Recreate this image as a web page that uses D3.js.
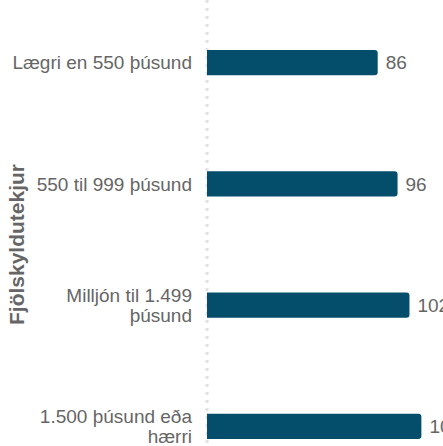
<!DOCTYPE html>
<html>
<head>
<meta charset="utf-8">
<script src="https://cdn.jsdelivr.net/npm/d3@7"></script>
<style>
  body { margin: 0; overflow: hidden; background: #fff; }
  svg { display: block; font-family: "Liberation Sans", Arial, sans-serif; }
</style>
</head>
<body>
<div id="chart"></div>
<script>
// income brackets (label lines) and index values
var categories = [
  ["Lægri en 550 þúsund"],
  ["550 til 999 þúsund"],
  ["Milljón til 1.499", "þúsund"],
  ["1.500 þúsund eða", "hærri"]
];
var values = [86, 96, 102, 108];
var axisTitle = "Fjölskyldutekjur";

var width = 443, height = 446;
// the original chart is bigger than the window, it gets cut on right and bottom
var margin = {top: 2, left: 207};
var plotH = 485;

var svg = d3.select("#chart").append("svg")
    .attr("width", width)
    .attr("height", height);

var x = d3.scaleLinear().domain([0, 100]).range([margin.left, margin.left + 198.5]);
var y = d3.scaleBand()
    .domain(d3.range(categories.length))
    .range([margin.top, margin.top + plotH])
    .paddingInner(0.793)
    .paddingOuter(0.397);

// dotted zero line
svg.append("line")
    .attr("x1", x(0)).attr("x2", x(0))
    .attr("y1", 0).attr("y2", height)
    .attr("stroke", "#e3e3e3")
    .attr("stroke-width", 3)
    .attr("stroke-dasharray", "3,5");

var barH = y.bandwidth();
var r = 3;

svg.selectAll(".bar")
    .data(values)
    .enter().append("path")
    .attr("class", "bar")
    .attr("fill", "#044e6c")
    .attr("d", function(d, i) {
      var x0 = x(0), x1 = x(d), y0 = y(i), y1 = y(i) + barH;
      return "M" + x0 + "," + y0 +
        "H" + (x1 - r) +
        "Q" + x1 + "," + y0 + " " + x1 + "," + (y0 + r) +
        "V" + (y1 - r) +
        "Q" + x1 + "," + y1 + " " + (x1 - r) + "," + y1 +
        "H" + x0 + "Z";
    });

svg.selectAll(".val")
    .data(values)
    .enter().append("text")
    .attr("class", "val")
    .attr("x", function(d) { return x(d) + 8; })
    .attr("y", function(d, i) { return y(i) + barH / 2; })
    .attr("dy", "0.35em")
    .attr("fill", "#666")
    .attr("font-size", 19)
    .text(function(d) { return d; });

var lineH = 20;
var lab = svg.selectAll(".lab")
    .data(categories)
    .enter().append("text")
    .attr("class", "lab")
    .attr("text-anchor", "end")
    .attr("fill", "#666")
    .attr("font-size", 19);

lab.selectAll("tspan")
    .data(function(d, i) { return d.map(function(t, j) { return {t: t, j: j, n: d.length, i: i}; }); })
    .enter().append("tspan")
    .attr("x", x(0) - 15)
    .attr("y", function(d) { return y(d.i) + barH / 2 + (d.j - (d.n - 1) / 2) * lineH; })
    .attr("dy", "0.35em")
    .text(function(d) { return d.t; });

svg.append("text")
    .attr("transform", "translate(17," + (margin.top + plotH / 2) + ") rotate(-90)")
    .attr("text-anchor", "middle")
    .attr("dy", "0.35em")
    .attr("fill", "#666")
    .attr("font-size", 21)
    .attr("font-weight", "bold")
    .text(axisTitle);
</script>
</body>
</html>
